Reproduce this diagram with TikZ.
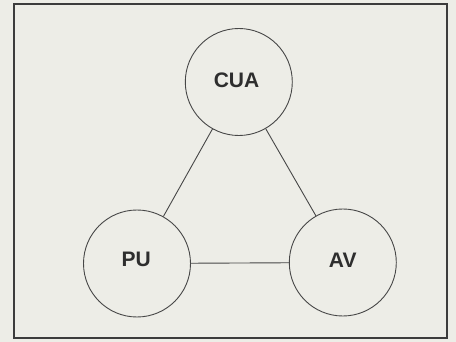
\documentclass[tikz,border=0pt]{standalone}
\usepackage{fontspec}
\setmainfont{Liberation Sans}
\definecolor{paper}{HTML}{EDEDE7}
\definecolor{ink}{HTML}{474747}
\definecolor{frame}{HTML}{3C3C3C}
\definecolor{txt}{HTML}{2E2E2E}
\begin{document}
\begin{tikzpicture}[x=1pt,y=-1pt,
  party/.style={circle,draw=ink,line width=0.9pt,minimum size=107pt,inner sep=0pt},
  partytext/.style={font=\fontsize{21}{24}\selectfont\bfseries,text=txt,inner sep=0pt},
  link/.style={draw=ink,line width=0.9pt}]
\fill[paper] (0,0) rectangle (456,342);
\useasboundingbox (0,0) rectangle (456,342);
\draw[draw=frame,line width=1.1pt] (14,4) rectangle (447,338);
\node[party] (cua) at (238.8,82) {};
\node[party] (pu) at (137,263.5) {};
\node[party] (av) at (342.8,262.5) {};
\node[partytext] (cuat) at (236.5,80.7) {CUA};
\node[partytext] (put) at (136.2,259.8) {PU};
\node[partytext] (avt) at (342.7,260) {AV};
\draw[link] (cua) -- (pu);
\draw[link] (cua) -- (av);
\draw[link] (pu) -- (av);
\end{tikzpicture}
\end{document}
